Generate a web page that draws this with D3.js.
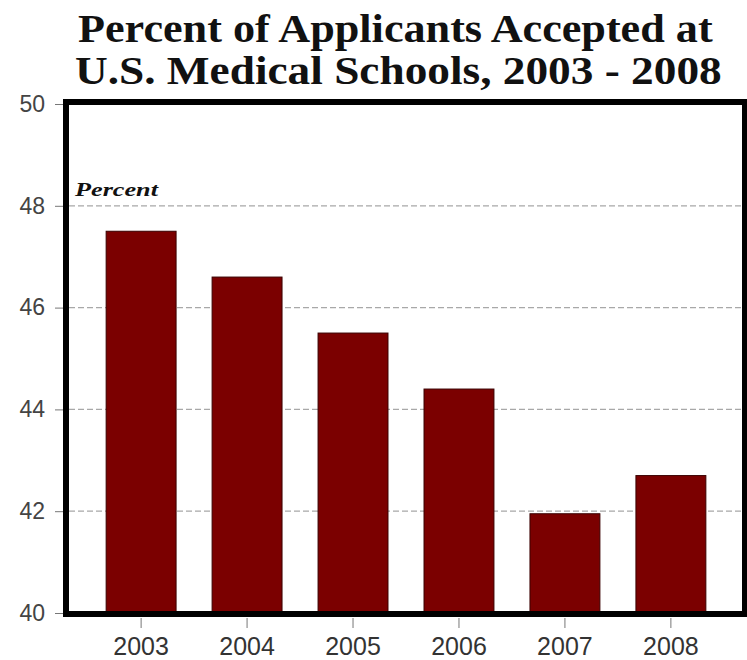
<!DOCTYPE html>
<html>
<head>
<meta charset="utf-8">
<script src="https://cdn.jsdelivr.net/npm/d3@7"></script>
<style>
  html, body { margin: 0; padding: 0; background: #fff; }
  svg { display: block; }
</style>
</head>
<body>
<div id="chart"></div>
<script>
// Acceptance rate at U.S. medical schools, by application year
const years = ["2003", "2004", "2005", "2006", "2007", "2008"];
const percentAccepted = [47.5, 46.6, 45.5, 44.4, 41.95, 42.7];
const yTicks = [40, 42, 44, 46, 48, 50];
const gridValues = [42, 44, 46, 48];
const titleLines = ["Percent of Applicants Accepted at", "U.S. Medical Schools, 2003 - 2008"];
const unitLabel = "Percent";

const width = 747, height = 660;
const plot = { left: 69, right: 742, top: 104, bottom: 613 };

const svg = d3.select("#chart").append("svg")
  .attr("width", width)
  .attr("height", height);

const serif = "'Liberation Serif', 'DejaVu Serif', serif";

// Places a text so it runs from x0 to x1, widening the glyphs horizontally
function fitText(sel, x0, x1, baseline) {
  const natural = sel.node().getComputedTextLength();
  const sx = (x1 - x0) / natural;
  sel.attr("x", 0).attr("y", 0)
    .attr("transform", `translate(${x0},${baseline}) scale(${sx},1)`);
}

// Title: two lines in a heavy serif
const titleSpans = [[78, 713], [75, 722]];
const title = svg.append("g").attr("class", "title");
titleLines.forEach((line, i) => {
  const t = title.append("text")
    .style("font-family", serif)
    .style("font-weight", "bold")
    .style("font-size", "40px")
    .style("fill", "#111")
    .text(line);
  fitText(t, titleSpans[i][0], titleSpans[i][1], 42 + i * 42);
});

const x = d3.scaleBand()
  .domain(years)
  .range([plot.left - 1, plot.right + 2])
  .paddingInner(0.34)
  .paddingOuter(0.36);

const y = d3.scaleLinear()
  .domain([40, 50])
  .range([plot.bottom, plot.top]);

// Dashed horizontal gridlines
svg.append("g").attr("class", "grid")
  .selectAll("line")
  .data(gridValues)
  .join("line")
  .attr("x1", plot.left)
  .attr("x2", plot.right)
  .attr("y1", d => y(d))
  .attr("y2", d => y(d))
  .attr("stroke", "#a8a8a8")
  .attr("stroke-width", 1.2)
  .attr("stroke-dasharray", "6,3");

// Bars
svg.append("g").attr("class", "bars")
  .selectAll("rect")
  .data(years.map((yr, i) => ({ year: yr, value: percentAccepted[i] })))
  .join("rect")
  .attr("x", d => x(d.year))
  .attr("width", x.bandwidth())
  .attr("y", d => y(d.value))
  .attr("height", d => y(40) - y(d.value))
  .attr("fill", "#7b0000")
  .attr("stroke", "#3a0000")
  .attr("stroke-width", 1);

// Heavy black frame around the plot area
svg.append("rect")
  .attr("x", plot.left - 3)
  .attr("y", plot.top - 2)
  .attr("width", plot.right - plot.left + 6)
  .attr("height", plot.bottom - plot.top + 3)
  .attr("fill", "none")
  .attr("stroke", "#000")
  .attr("stroke-width", 6);

// Unit label inside the frame
const unit = svg.append("text")
  .style("font-family", serif)
  .style("font-weight", "bold")
  .style("font-style", "italic")
  .style("font-size", "18px")
  .style("fill", "#111")
  .text(unitLabel);
fitText(unit, 75, 158, 196);

// Y axis: ticks outside the frame
const yAxis = svg.append("g")
  .attr("transform", `translate(${plot.left - 6},0)`)
  .call(d3.axisLeft(y).tickValues(yTicks).tickSize(8).tickPadding(10).tickFormat(d3.format("d")));
yAxis.select(".domain").remove();
yAxis.selectAll(".tick line").attr("stroke", "#777");
yAxis.selectAll("text")
  .style("font-family", "'Liberation Sans', Arial, sans-serif")
  .style("font-size", "23px")
  .style("fill", "#444");

// X axis: year labels below the frame
const xAxis = svg.append("g")
  .attr("transform", `translate(0,${plot.bottom + 5})`)
  .call(d3.axisBottom(x).tickSize(10).tickPadding(9));
xAxis.select(".domain").remove();
xAxis.selectAll(".tick line").attr("stroke", "#777");
xAxis.selectAll("text")
  .style("font-family", "'Liberation Sans', Arial, sans-serif")
  .style("font-size", "25px")
  .style("fill", "#333");
</script>
</body>
</html>
